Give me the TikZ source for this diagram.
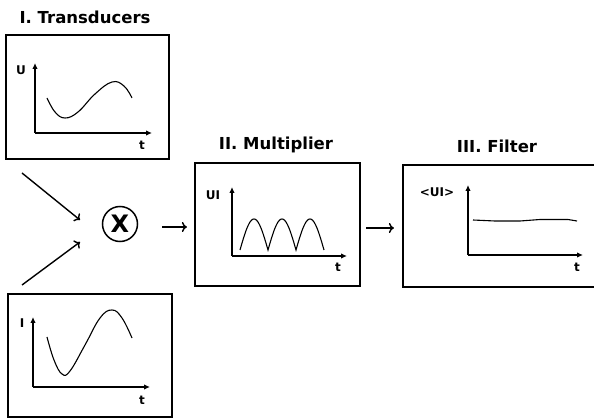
\documentclass[tikz,border=0pt]{standalone}
\usepackage{fontspec}
\setmainfont{DejaVu Sans}
\usetikzlibrary{arrows.meta}
\tikzset{
  panel/.style={draw, line width=2.2pt, inner sep=0pt},
  title/.style={font=\fontsize{16.5}{18}\selectfont\bfseries, inner sep=0pt},
  axlabel/.style={font=\fontsize{12}{13}\selectfont\bfseries, inner sep=0pt},
  axis/.style={line width=1.5pt, -{Latex[length=6pt,width=5.5pt]}},
  curve/.style={line width=1.1pt},
  conn/.style={line width=1.4pt, -{To[length=5pt,width=10pt]}},
}
\begin{document}
\begin{tikzpicture}[x=1pt,y=-1pt]
\clip (0,0) rectangle (594,419);
\fill[white] (0,0) rectangle (594,419);
% titles
\node[title] (t1) at (85,17) {I. Transducers};
\node[title] (t2) at (276,145) {II. Multiplier};
\node[title] (t3) at (497,146) {III. Filter};
% panels
\node[panel, minimum width=163pt, minimum height=124pt] (box1) at (87.5,97) {};
\node[panel, minimum width=164pt, minimum height=123pt] (box4) at (90,355.5) {};
\node[panel, minimum width=165pt, minimum height=123pt] (box2) at (277.5,224.5) {};
\node[panel, minimum width=217pt, minimum height=122pt] (box3) at (511.5,226) {};
% multiplier
\node[draw, circle, line width=1.5pt, minimum size=35pt, inner sep=0pt,
      font=\fontsize{24}{25}\selectfont\bfseries] (mult) at (120,224) {X};
% box1 graph
\coordinate (o1) at (35,133);
\draw[axis] (o1) -- (35,63);
\draw[axis] (o1) -- (152,133);
\node[axlabel] (u1) at (21,70) {U};
\node[axlabel] (tt1) at (142,145) {t};
\draw[curve] plot[smooth, tension=0.7] coordinates {(47,98) (55,112) (65,118) (78,112) (95,94) (112,82) (124,86) (132,98)};
% box4 graph
\coordinate (o4) at (33,387);
\draw[axis] (o4) -- (33,317);
\draw[axis] (o4) -- (150,387);
\node[axlabel] (i4) at (22,323) {I};
\node[axlabel] (tt4) at (142,400) {t};
\draw[curve] plot[smooth, tension=0.7] coordinates {(47,337) (54,360) (62,374) (70,371) (85,345) (100,318) (112,310) (122,318) (132,338)};
% box2 graph
\coordinate (o2) at (232,256);
\draw[axis] (o2) -- (232,187);
\draw[axis] (o2) -- (347,256);
\node[axlabel] (ui2) at (213,195) {UI};
\node[axlabel] (tt2) at (338,267) {t};
\draw[curve] plot[domain=0:540, samples=121] ({240 + \x/180*28}, {250 - 31*abs(sin(\x))});
% box3 graph
\coordinate (o3) at (468,255);
\draw[axis] (o3) -- (468,185);
\draw[axis] (o3) -- (583,255);
\node[axlabel] (ui3) at (437,192) {<UI>};
\node[axlabel] (tt3) at (577,267) {t};
\draw[curve] (473,220) -- (495,221) -- (520,221) -- (540,219.5) -- (568,219.5) -- (577,221);
% connectors
\coordinate (a1s) at (22,173);
\coordinate (a1e) at (80,220);
\coordinate (a2s) at (22,285);
\coordinate (a2e) at (80,242);
\draw[conn] (a1s) -- (a1e);
\draw[conn] (a2s) -- (a2e);
\draw[conn, shorten <=24pt, shorten >=7pt] ([yshift=-3pt]mult.east) -- ([yshift=-2.5pt]box2.west);
\draw[conn, shorten <=5pt, shorten >=8pt] ([yshift=-3.5pt]box2.east) -- ([yshift=-2pt]box3.west);
\end{tikzpicture}
\end{document}
